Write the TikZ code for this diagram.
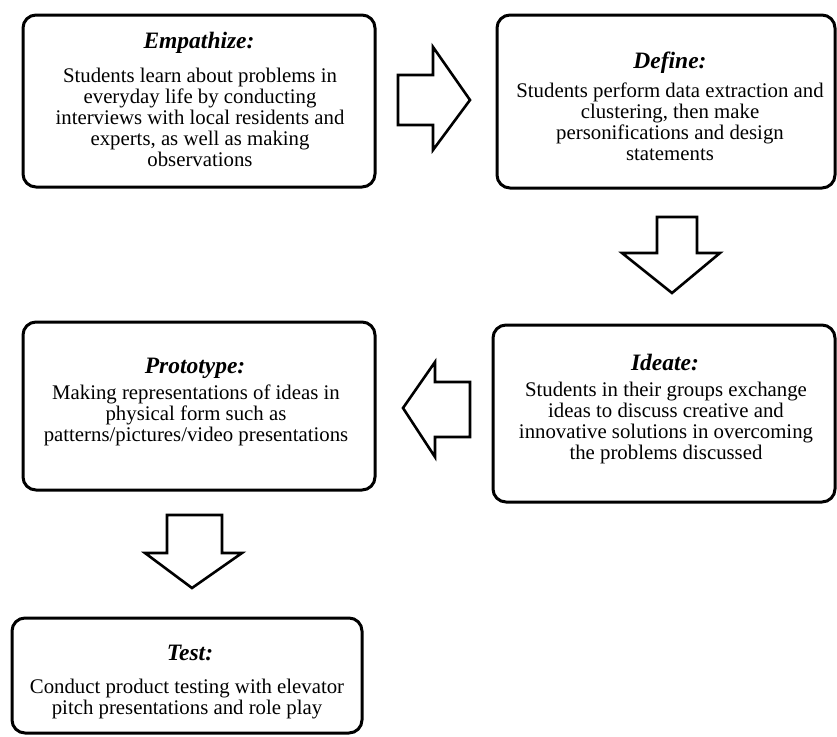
\documentclass[tikz,border=0pt]{standalone}
\usepackage{fontspec}
\setmainfont{Liberation Serif}
\begin{document}
\begin{tikzpicture}[x=1pt,y=-1pt,
  stagebox/.style={draw=black,line width=3pt,rounded corners=13pt,fill=white,inner sep=0pt},
  stagetitle/.style={font=\fontsize{23.5}{25}\selectfont\bfseries\itshape,inner sep=0pt},
  stagebody/.style={font=\fontsize{20.8}{21}\selectfont,align=center,inner sep=0pt},
  blockarrow/.style={draw=black,line width=2.6pt,fill=white,line join=miter}]
\useasboundingbox (0,0) rectangle (837,736);
% boxes
\node[stagebox,minimum width=352pt,minimum height=172pt] (emp) at (199,101) {};
\node[stagebox,minimum width=338pt,minimum height=173pt] (def) at (666,101.5) {};
\node[stagebox,minimum width=352pt,minimum height=168pt] (pro) at (199,406) {};
\node[stagebox,minimum width=342pt,minimum height=177pt] (ide) at (664,413.5) {};
\node[stagebox,minimum width=350pt,minimum height=115pt] (tst) at (187,675.5) {};
% titles
\node[stagetitle] (empT) at (199,43) {Empathize:};
\node[stagetitle] (defT) at (670,63) {Define:};
\node[stagetitle] (proT) at (195,368) {Prototype:};
\node[stagetitle] (ideT) at (665,363) {Ideate:};
\node[stagetitle] (tstT) at (190,653) {Test:};
% bodies
\node[stagebody] (empB) at (200,117.5) {Students learn about problems in\\everyday life by conducting\\interviews with local residents and\\experts, as well as making\\observations};
\node[stagebody] (defB) at (670,121.5) {Students perform data extraction and\\clustering, then make\\personifications and design\\statements};
\node[stagebody] (proB) at (196,415) {Making representations of ideas in\\physical form such as\\patterns/pictures/video presentations};
\node[stagebody] (ideB) at (666,422.5) {Students in their groups exchange\\ideas to discuss creative and\\innovative solutions in overcoming\\the problems discussed};
\node[stagebody] (tstB) at (187,699) {Conduct product testing with elevator\\pitch presentations and role play};
% block arrows
\draw[blockarrow] (398,75) -- (433,75) -- (433,47) -- (470,100) -- (433,150) -- (433,125) -- (398,125) -- cycle;
\draw[blockarrow] (657,217) -- (697,217) -- (697,253) -- (720,253) -- (672,293) -- (622,253) -- (657,253) -- cycle;
\draw[blockarrow] (470,382) -- (435,382) -- (435,362) -- (403,408) -- (435,457) -- (435,437) -- (470,437) -- cycle;
\draw[blockarrow] (167,515) -- (222,515) -- (222,553) -- (242,553) -- (192,588) -- (145,553) -- (167,553) -- cycle;
\end{tikzpicture}
\end{document}
